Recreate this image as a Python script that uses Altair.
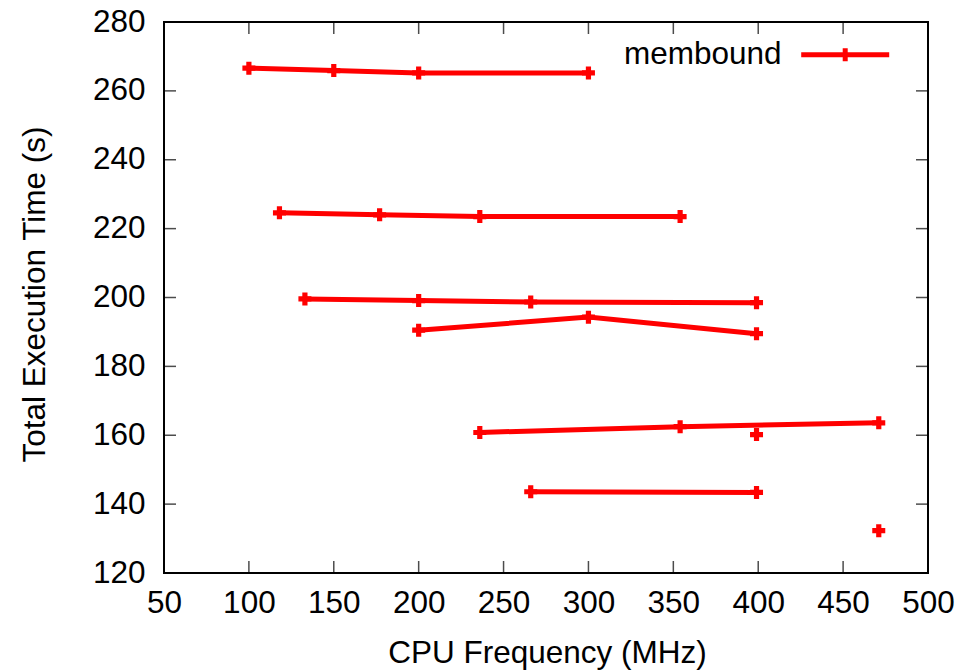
import altair as alt
import pandas as pd

# --- data (CPU frequency in MHz, total time in s) ---
freq_g1 = [100, 150, 200, 300]
time_g1 = [266.6, 265.9, 265.2, 265.2]
freq_g2 = [118, 177, 236, 354]
time_g2 = [224.6, 224.0, 223.5, 223.5]
freq_g3 = [133, 200, 266, 399]
time_g3 = [199.6, 199.1, 198.7, 198.5]
freq_g4 = [200, 300, 399]
time_g4 = [190.5, 194.3, 189.5]
freq_g5 = [236, 354, 471]
time_g5 = [160.8, 162.5, 163.6]
freq_g6 = [399]
time_g6 = [160.2]
freq_g7 = [266, 399]
time_g7 = [143.6, 143.4]
freq_g8 = [471]
time_g8 = [132.3]

groups = [
    (freq_g1, time_g1), (freq_g2, time_g2), (freq_g3, time_g3), (freq_g4, time_g4),
    (freq_g5, time_g5), (freq_g6, time_g6), (freq_g7, time_g7), (freq_g8, time_g8),
]

x_ticks = [50, 100, 150, 200, 250, 300, 350, 400, 450, 500]
y_ticks = [120, 140, 160, 180, 200, 220, 240, 260, 280]
series_name = "membound"

rows = []
for gi, (fs, ts) in enumerate(groups):
    for f, t in zip(fs, ts):
        rows.append({"freq": f, "time": t, "grp": gi, "series": series_name})
df = pd.DataFrame(rows)
df_xt = pd.DataFrame({"freq": x_ticks})
df_yt = pd.DataFrame({"time": y_ticks})

FONT = "Liberation Sans"
FS = 31.5
RED = "#ff0000"

xscale = alt.Scale(domain=[50, 500], nice=False, zero=False)
yscale = alt.Scale(domain=[120, 280], nice=False, zero=False)

xaxis = alt.Axis(
    title="CPU Frequency (MHz)", values=x_ticks, ticks=False, domain=False, grid=False,
    labelPadding=14, labelFontSize=FS, labelFont=FONT, labelColor="black",
    labelOverlap=False, labelFlush=False,
    titleFontSize=FS, titleFont=FONT, titleFontWeight="normal", titleColor="black",
    titleX=383, titleY=80, titleAlign="center", titleBaseline="middle",
)
yaxis = alt.Axis(
    title="Total Execution Time (s)", values=y_ticks, ticks=False, domain=False, grid=False,
    labelPadding=19, labelFontSize=FS, labelFont=FONT, labelColor="black",
    labelOverlap=False, labelFlush=False,
    titleFontSize=FS, titleFont=FONT, titleFontWeight="normal", titleColor="black",
    titleX=-129, titleY=272, titleAlign="center", titleBaseline="middle", titleAngle=270,
)

X = alt.X("freq:Q", scale=xscale, axis=xaxis)
Y = alt.Y("time:Q", scale=yscale, axis=yaxis)

lines = alt.Chart(df).mark_line(strokeWidth=5).encode(
    x=X, y=Y, detail="grp:N",
    color=alt.Color(
        "series:N",
        scale=alt.Scale(domain=[series_name], range=[RED]),
        legend=alt.Legend(
            title=None, orient="none", legendX=436, legendY=17, padding=0,
            symbolType="M16.86,0L24.86,0M20.86,-0.6L20.86,0.6", symbolSize=484,
            symbolStrokeWidth=5,
            labelFontSize=FS, labelFont=FONT, labelColor="black",
            labelAlign="right", labelOffset=150,
        ),
    ),
)

points = alt.Chart(df).mark_point(
    shape="cross", filled=True, size=169, color=RED, opacity=1
).encode(x=X, y=Y)

tick_style = dict(color="black", thickness=1.5, size=12)
ticks_bottom = alt.Chart(df_xt).mark_tick(orient="vertical", yOffset=-6, **tick_style).encode(
    x=X, y=alt.YDatum(120, scale=yscale))
ticks_top = alt.Chart(df_xt).mark_tick(orient="vertical", yOffset=6, **tick_style).encode(
    x=X, y=alt.YDatum(280, scale=yscale))
ticks_left = alt.Chart(df_yt).mark_tick(orient="horizontal", xOffset=6, **tick_style).encode(
    y=Y, x=alt.XDatum(50, scale=xscale))
ticks_right = alt.Chart(df_yt).mark_tick(orient="horizontal", xOffset=-6, **tick_style).encode(
    y=Y, x=alt.XDatum(500, scale=xscale))

chart = alt.layer(
    ticks_bottom, ticks_top, ticks_left, ticks_right, lines, points
).properties(
    width=764, height=551,
    autosize=alt.AutoSizeParams(type="none"),
    padding={"left": 164, "top": 22, "right": 47, "bottom": 97},
    background="white",
).configure_view(stroke="black", strokeWidth=2)

chart.save("out.html", embed_options={"renderer": "svg", "actions": False})
